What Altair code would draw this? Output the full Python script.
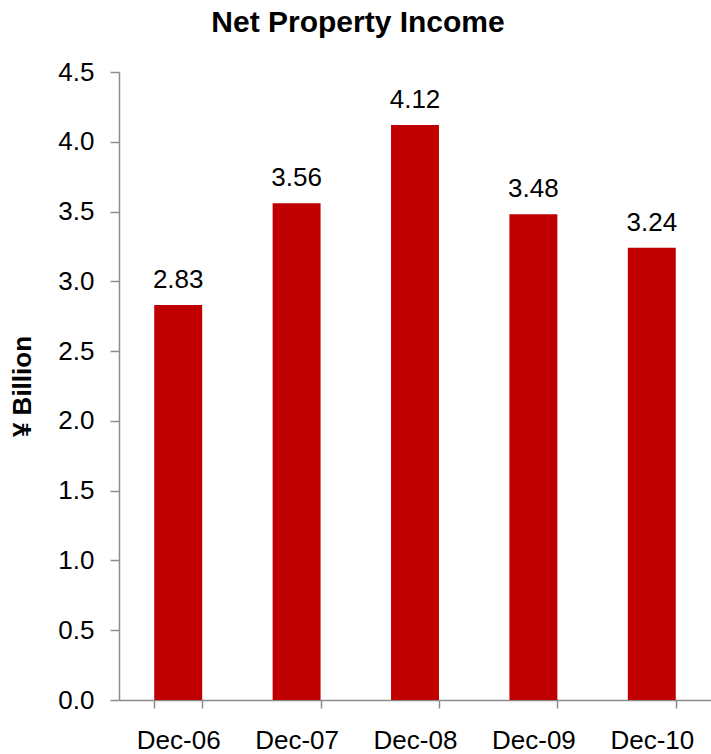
import altair as alt
import pandas as pd

categories = ["Dec-06", "Dec-07", "Dec-08", "Dec-09", "Dec-10"]
values = [2.83, 3.56, 4.12, 3.48, 3.24]
labels = ["2.83", "3.56", "4.12", "3.48", "3.24"]

df = pd.DataFrame({"period": categories, "value": values, "label": labels})

FONT = "Liberation Sans, Arial, Helvetica, sans-serif"
RED = "#C00000"
GRAY = "#8C8C8C"

x = alt.X(
    "period:N",
    sort=categories,
    scale=alt.Scale(paddingInner=0.595, paddingOuter=0.2975),
    axis=alt.Axis(
        title=None,
        labelAngle=0,
        labelFont=FONT,
        labelFontSize=26,
        labelColor="#000000",
        labelPadding=19,
        domainColor=GRAY,
        domainWidth=1.5,
        tickColor=GRAY,
        tickWidth=1.5,
        tickSize=8,
        tickBand="extent",
    ),
)

y = alt.Y(
    "value:Q",
    scale=alt.Scale(domain=[0, 4.5], nice=False),
    axis=alt.Axis(
        title="¥ Billion",
        titleFont=FONT,
        titleFontSize=26,
        titleFontWeight="bold",
        titleColor="#000000",
        titleX=-97,
        titleY=314,
        titleBaseline="middle",
        titleAngle=-90,
        values=[0, 0.5, 1.0, 1.5, 2.0, 2.5, 3.0, 3.5, 4.0, 4.5],
        format=".1f",
        labelFont=FONT,
        labelFontSize=26,
        labelColor="#000000",
        labelPadding=16,
        domainColor=GRAY,
        domainWidth=1.5,
        tickColor=GRAY,
        tickWidth=1.5,
        tickSize=9,
        grid=False,
    ),
)

bars = alt.Chart(df).mark_bar(color=RED).encode(x=x, y=y)

text = alt.Chart(df).mark_text(
    font=FONT, fontSize=26, color="#000000", baseline="alphabetic", dy=-17
).encode(x=alt.X("period:N", sort=categories), y=alt.Y("value:Q"), text="label:N")

chart = (
    alt.layer(bars, text)
    .properties(
        width=592,
        height=628,
        title=alt.TitleParams(
            "Net Property Income",
            font=FONT,
            fontSize=30,
            fontWeight="bold",
            color="#000000",
            anchor="middle",
            dx=-57,
            offset=21,
        ),
        autosize=alt.AutoSizeParams(type="none"),
        padding={"left": 119, "top": 72, "right": 0, "bottom": 54},
    )
    .configure_view(stroke=None)
)

chart.save("out.html", embed_options={"renderer": "svg", "actions": False})
